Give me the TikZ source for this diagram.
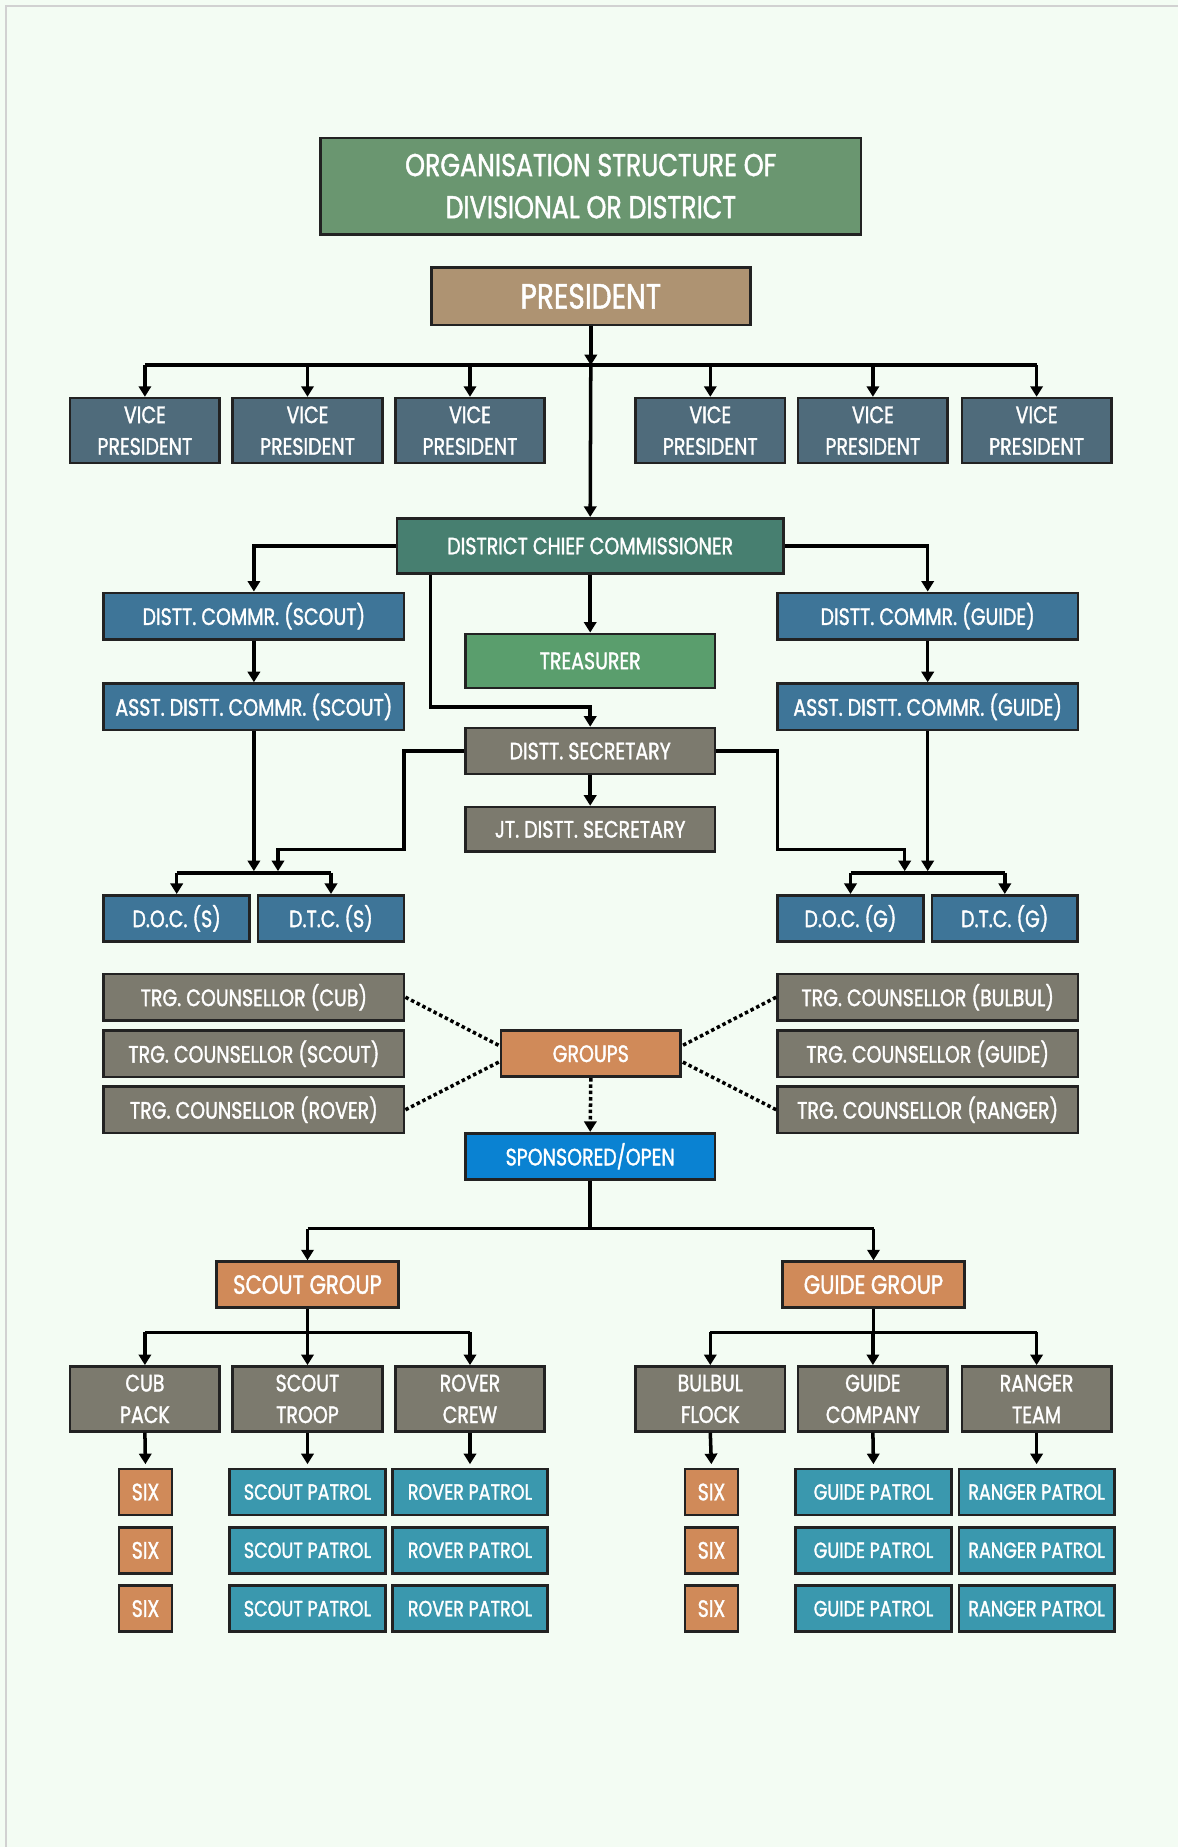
\documentclass[tikz,border=0pt]{standalone}
\usepackage{fontspec}
\setmainfont{Poppins}[FakeStretch=0.8,UprightFeatures={FakeBold=1.4}]
\usetikzlibrary{arrows.meta}

\definecolor{pagebg}{HTML}{F3FCF3}
\definecolor{edge}{HTML}{222222}
\definecolor{titlegreen}{HTML}{6A9670}
\definecolor{prestan}{HTML}{AE9372}
\definecolor{vpslate}{HTML}{4F6B7B}
\definecolor{dccteal}{HTML}{477F70}
\definecolor{commblue}{HTML}{3E7598}
\definecolor{treasgreen}{HTML}{5A9E6D}
\definecolor{greybox}{HTML}{7C7A6E}
\definecolor{orangebox}{HTML}{D08A59}
\definecolor{sponsblue}{HTML}{0A82D2}
\definecolor{patrolteal}{HTML}{3A98AE}

\begin{document}
\begin{tikzpicture}[x=0.02cm,y=-0.02cm,
  box/.style={draw=edge,line width=1.5pt,text=white,inner sep=0pt,align=center,
    font=\fontsize{13.5}{18}\selectfont},
  wide/.style={box,minimum width=6.01cm,minimum height=0.93cm},
  mid/.style={box,minimum width=4.99cm,minimum height=0.92cm},
  unitbox/.style={box,minimum width=2.99cm,minimum height=1.30cm},
  halfbox/.style={box,fill=commblue,minimum width=2.92cm,minimum height=0.92cm},
  patrol/.style={box,fill=patrolteal,minimum width=3.11cm,minimum height=0.92cm,
    font=\fontsize{12.5}{16}\selectfont},
  sixbox/.style={box,fill=orangebox,minimum width=1.06cm,minimum height=0.92cm},
  conn/.style={draw=black,line width=2pt},
  arr/.style={conn,-{Triangle[width=7pt,length=6pt]}},
  dots/.style={conn,dash pattern=on 2pt off 1.6pt}]
\useasboundingbox (0,0) rectangle (1178,1847);
\fill[pagebg] (0,0) rectangle (1178,1847);
\draw[black!18,line width=0.8pt] (6,1847) -- (6,6) -- (1178,6);

% head
\node[box,fill=titlegreen,minimum width=10.81cm,minimum height=1.93cm,
  font=\fontsize{18}{24}\selectfont] (title) at (590.8,186.1)
  {ORGANISATION STRUCTURE OF\\DIVISIONAL OR DISTRICT};
\node[box,fill=prestan,minimum width=6.38cm,minimum height=1.15cm,
  font=\fontsize{20}{22}\selectfont] (pres) at (590.8,296.3) {PRESIDENT};
\foreach \x [count=\i] in {144.9,307.5,470.0,710.3,872.9,1036.6}
  \node[unitbox,fill=vpslate] (vp\i) at (\x,430.6) {VICE\\PRESIDENT};
\coordinate (vpbus) at (590.8,365.2);

% commissioners
\node[box,fill=dccteal,minimum width=7.73cm,minimum height=1.11cm] (dcc) at (590.2,546)
  {DISTRICT CHIEF COMMISSIONER};
\node[wide,fill=commblue] (dcs) at (253.9,616.1) {DISTT. COMMR. (SCOUT)};
\node[wide,fill=commblue] (dcg) at (927.7,616.1) {DISTT. COMMR. (GUIDE)};
\node[mid,fill=treasgreen,minimum height=1.08cm] (treas) at (590.2,660.9) {TREASURER};
\node[wide,fill=commblue] (adcs) at (253.9,706.8) {ASST. DISTT. COMMR. (SCOUT)};
\node[wide,fill=commblue] (adcg) at (927.7,706.8) {ASST. DISTT. COMMR. (GUIDE)};
\node[mid,fill=greybox] (ds) at (590.2,751) {DISTT. SECRETARY};
\node[mid,fill=greybox,minimum height=0.89cm] (jt) at (590.2,829.3) {JT. DISTT. SECRETARY};
\node[halfbox] (docs) at (176.7,918.3) {D.O.C. (S)};
\node[halfbox] (dtcs) at (331.0,918.3) {D.T.C. (S)};
\node[halfbox] (docg) at (850.5,918.3) {D.O.C. (G)};
\node[halfbox] (dtcg) at (1004.8,918.3) {D.T.C. (G)};
\coordinate (hubs) at (253.9,872.9);
\coordinate (hubsd) at (278.0,872.9);
\coordinate (hubg) at (927.7,872.9);
\coordinate (hubgd) at (904.7,872.9);

% groups
\node[wide,fill=greybox] (tcub) at (253.9,997.2) {TRG. COUNSELLOR (CUB)};
\node[wide,fill=greybox] (tscout) at (253.9,1053.7) {TRG. COUNSELLOR (SCOUT)};
\node[wide,fill=greybox] (trover) at (253.9,1109.7) {TRG. COUNSELLOR (ROVER)};
\node[wide,fill=greybox] (tbulbul) at (927.7,997.2) {TRG. COUNSELLOR (BULBUL)};
\node[wide,fill=greybox] (tguide) at (927.7,1053.7) {TRG. COUNSELLOR (GUIDE)};
\node[wide,fill=greybox] (tranger) at (927.7,1109.7) {TRG. COUNSELLOR (RANGER)};
\node[box,fill=orangebox,minimum width=3.60cm,minimum height=0.92cm] (groups) at (590.8,1053.7) {GROUPS};
\node[mid,fill=sponsblue] (spons) at (590.2,1156.2) {SPONSORED/OPEN};
\coordinate (grpbus) at (590.2,1228.7);
\node[box,fill=orangebox,minimum width=3.63cm,minimum height=0.92cm,
  font=\fontsize{15}{18}\selectfont] (sg) at (307.5,1284.6) {SCOUT GROUP};
\node[box,fill=orangebox,minimum width=3.63cm,minimum height=0.92cm,
  font=\fontsize{15}{18}\selectfont] (gg) at (873.5,1284.6) {GUIDE GROUP};
\coordinate (sbus) at (307.5,1332.3);
\coordinate (gbus) at (873.5,1332.3);

% sections
\node[unitbox,fill=greybox] (cub) at (144.9,1398.9) {CUB\\PACK};
\node[unitbox,fill=greybox] (troop) at (307.5,1398.9) {SCOUT\\TROOP};
\node[unitbox,fill=greybox] (crew) at (470.0,1398.9) {ROVER\\CREW};
\node[unitbox,fill=greybox] (flock) at (710.3,1398.9) {BULBUL\\FLOCK};
\node[unitbox,fill=greybox] (company) at (872.9,1398.9) {GUIDE\\COMPANY};
\node[unitbox,fill=greybox] (team) at (1036.6,1398.9) {RANGER\\TEAM};
\foreach \y [count=\j] in {1492,1550.3,1608.6} {
  \node[sixbox] (six\j) at (145.5,\y) {SIX};
  \node[patrol] (sp\j) at (307.5,\y) {SCOUT PATROL};
  \node[patrol] (rp\j) at (470.0,\y) {ROVER PATROL};
  \node[sixbox] (sixg\j) at (711.5,\y) {SIX};
  \node[patrol] (gp\j) at (873.5,\y) {GUIDE PATROL};
  \node[patrol] (rg\j) at (1036.6,\y) {RANGER PATROL};
}

% connectors
\draw[arr] (pres.south) -- (vpbus);
\draw[conn] (vp1.north |- vpbus) -- (vp6.north |- vpbus);
\foreach \i in {1,...,6}
  \draw[arr] (vp\i.north |- vpbus) -- (vp\i.north);
\draw[arr] (vpbus) -- (dcc.north);
\draw[arr] (dcc.west) -| (dcs.north);
\draw[arr] (dcc.east) -| (dcg.north);
\draw[arr] (dcc.south) -- (treas.north);
\draw[arr] ([xshift=0.7cm]dcc.south west) |- (adcs.center -| ds.north) -- (ds.north);
\draw[arr] (dcs.south) -- (adcs.north);
\draw[arr] (dcg.south) -- (adcg.north);
\draw[arr] (ds.south) -- (jt.north);
\draw[arr,shorten >=1pt] (adcs.south) -- (hubs);
\draw[arr,shorten >=1pt] (ds.west) -| (404.1,849.3) -| (hubsd);
\draw[arr,shorten >=1pt] (adcg.south) -- (hubg);
\draw[arr,shorten >=1pt] (ds.east) -| (777.5,849.3) -| (hubgd);
\draw[conn] (docs.north |- hubs) -- (dtcs.north |- hubs);
\draw[conn] (docg.north |- hubg) -- (dtcg.north |- hubg);
\foreach \n in {docs,dtcs,docg,dtcg}
  \draw[arr] (\n.north |- hubs) -- (\n.north);

\draw[dots] (tcub.east) -- ([yshift=0.16cm]groups.west);
\draw[dots] (trover.east) -- ([yshift=-0.16cm]groups.west);
\draw[dots] (tbulbul.west) -- ([yshift=0.16cm]groups.east);
\draw[dots] (tranger.west) -- ([yshift=-0.16cm]groups.east);
\draw[dots,-{Triangle[width=7pt,length=6pt]}] (groups.south) -- (spons.north);

\draw[conn] (spons.south) -- (grpbus);
\draw[conn] (sg.north |- grpbus) -- (gg.north |- grpbus);
\draw[arr] (sg.north |- grpbus) -- (sg.north);
\draw[arr] (gg.north |- grpbus) -- (gg.north);
\draw[conn] (sg.south) -- (sbus);
\draw[conn] (gg.south) -- (gbus);
\draw[conn] (cub.north |- sbus) -- (crew.north |- sbus);
\draw[conn] (flock.north |- gbus) -- (team.north |- gbus);
\foreach \n in {cub,troop,crew,flock,company,team}
  \draw[arr] (\n.north |- sbus) -- (\n.north);
\draw[arr,shorten >=2pt] (cub.south) -- (six1.north);
\draw[arr,shorten >=2pt] (troop.south) -- (sp1.north);
\draw[arr,shorten >=2pt] (crew.south) -- (rp1.north);
\draw[arr,shorten >=2pt] (flock.south) -- (sixg1.north);
\draw[arr,shorten >=2pt] (company.south) -- (gp1.north);
\draw[arr,shorten >=2pt] (team.south) -- (rg1.north);
\end{tikzpicture}
\end{document}
